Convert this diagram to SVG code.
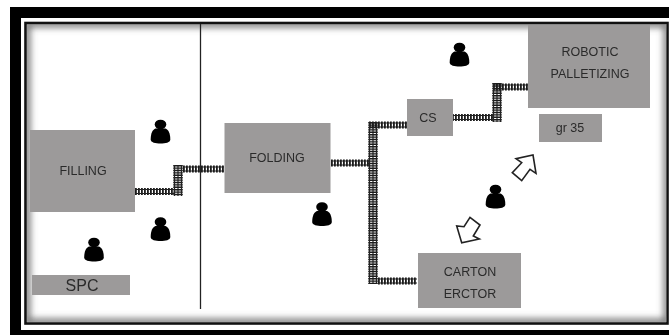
<svg xmlns="http://www.w3.org/2000/svg" xmlns:xlink="http://www.w3.org/1999/xlink" width="669" height="335" viewBox="0 0 669 335">
<style>
.box{fill:#9c9a9a}
.lbl{font-family:"Liberation Sans",Arial,sans-serif;font-size:12.5px;fill:#2b2b2b;text-anchor:middle}
.tie{fill:none;stroke:#1a1a1a;stroke-width:7;stroke-dasharray:1.8 1.2}
.tiev{fill:none;stroke:#1a1a1a;stroke-width:9.500;stroke-dasharray:1.4 1}
.rail{fill:none;stroke:#222;stroke-width:1.200}
.arrow{fill:#fff;stroke:#222;stroke-width:1.600;stroke-linejoin:miter}
</style>
<defs>
<filter id="soft" x="-5%" y="-5%" width="110%" height="110%"><feGaussianBlur stdDeviation="0.45"/></filter>
<filter id="edge" x="-5%" y="-5%" width="110%" height="110%"><feGaussianBlur stdDeviation="3.500"/></filter>
<clipPath id="inner"><rect x="27" y="24" width="640" height="298"/></clipPath>
<g id="person"><ellipse cx="0" cy="0" rx="5.800" ry="4.800"/><path d="M-5 4 H5 C7.500 5 9.800 8 9.800 15 C9.800 18 5 19 0 19 C-5 19 -9.800 18 -9.800 15 C-9.800 8 -7.500 5 -5 4 Z"/></g>
</defs>
<rect width="669" height="335" fill="#fff"/>
<g id="frame">
<path fill="#000" fill-rule="evenodd" d="M10 7 H669 V335 H10 Z M21 18 V330 H669 V18 Z"/>
<rect x="25.500" y="23" width="642" height="300.500" fill="none" stroke="#111" stroke-width="2.600"/>
<g clip-path="url(#inner)"><rect x="27" y="24" width="640" height="298" fill="none" stroke="#666" stroke-width="6" filter="url(#edge)"/></g>
</g>
<g filter="url(#soft)">
<g id="connectors">
<path class="tie" d="M135 191.500 H174 M183 169 H224 M331 163 H369 M369 125 H408 M378 281 H417 M452 117.500 H493 M493 87 H532"/>
<path class="tiev" d="M178 165 V196 M373 122 V284 M497 83 V122"/>
<path class="rail" d="M135 189.500 H174 M135 193.500 H174 M183 167 H224 M183 171 H224 M331 161 H369 M331 165 H369 M369 123 H408 M369 127 H408 M378 279 H417 M378 283 H417 M452 115.500 H493 M452 119.500 H493 M493 85 H532 M493 89 H532"/>
<path class="rail" d="M174.500 165 V196 M178 165 V196 M181.500 165 V196 M369.500 122 V284 M373 122 V284 M376.500 122 V284 M493.500 83 V122 M497 83 V122 M500.500 83 V122"/>
<path d="M200.500 24 V309" fill="none" stroke="#222" stroke-width="1.300"/>
<path class="arrow" d="M533 155 L536 173.300 L530 169.300 L521.700 180.700 L512.300 172.700 L521.700 162.700 L516 158.700 Z"/>
<path class="arrow" d="M461.700 242.700 L456.700 226 L464 226.700 L470 217.300 L480 225 L473.300 236 L479.300 239 Z"/>
</g>
<g id="filling"><rect class="box" x="30" y="130" width="105" height="82"/><text class="lbl" x="83" y="175">FILLING</text></g>
<g id="folding"><rect class="box" x="224.500" y="123" width="106" height="70"/><text class="lbl" x="277" y="162">FOLDING</text></g>
<g id="cs"><rect class="box" x="407" y="99" width="46" height="37"/><text class="lbl" x="428" y="122">CS</text></g>
<g id="robotic-palletizing"><rect class="box" x="528" y="25" width="122" height="83"/><text class="lbl" x="590" y="56">ROBOTIC</text><text class="lbl" x="590" y="78">PALLETIZING</text></g>
<g id="gr-35"><rect class="box" x="539" y="114" width="63" height="28"/><text class="lbl" x="570" y="132">gr 35</text></g>
<g id="carton-erctor"><rect class="box" x="418" y="253" width="103" height="55"/><text class="lbl" x="470" y="276">CARTON</text><text class="lbl" x="470" y="298">ERCTOR</text></g>
<g id="spc"><rect class="box" x="32" y="275" width="98" height="20"/><text class="lbl" x="82" y="291" style="font-size:16px">SPC</text></g>
<g id="operator-1"><use xlink:href="#person" href="#person" x="160.500" y="124.500"/></g>
<g id="operator-2"><use xlink:href="#person" href="#person" x="160.500" y="222"/></g>
<g id="operator-3"><use xlink:href="#person" href="#person" x="94" y="242.500"/></g>
<g id="operator-4"><use xlink:href="#person" href="#person" x="322" y="207"/></g>
<g id="operator-5"><use xlink:href="#person" href="#person" x="459.500" y="47.500"/></g>
<g id="operator-6"><use xlink:href="#person" href="#person" x="495.500" y="189.500"/></g>
</g>
</svg>
